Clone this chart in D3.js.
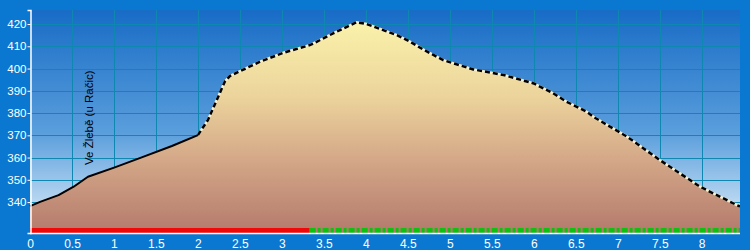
<!DOCTYPE html>
<html>
<head>
<meta charset="utf-8">
<script src="https://cdn.jsdelivr.net/npm/d3@7"></script>
<style>
  html, body { margin: 0; padding: 0; background: #0a78d0; }
  svg { display: block; font-family: "Liberation Sans", Arial, sans-serif; }
</style>
</head>
<body>
<div id="chart"></div>
<script>
'use strict';

// DATA
var distanceKm = [0, 0.12, 0.34, 0.52, 0.69, 1.01, 1.33, 1.69, 2.0, 2.12, 2.32, 2.38, 2.74, 3.02, 3.34, 3.61, 3.89, 4.01, 4.37, 4.53, 4.68, 4.92, 5.28, 5.64, 6.0, 6.23, 6.39, 6.63, 6.71, 7.11, 7.5, 7.98, 8.42, 8.456];
var elevationM = [338.2, 340.1, 343.1, 346.9, 351.4, 355.6, 360.1, 365.2, 370.1, 376.9, 394.1, 396.6, 403.1, 407.1, 410.6, 415.8, 420.8, 420, 415, 412, 408.6, 403.8, 399.6, 397.1, 393.3, 388.9, 385.1, 380.6, 378.3, 369.4, 358.9, 346.9, 338.6, 338];
var xTicks = [0, 0.5, 1, 1.5, 2, 2.5, 3, 3.5, 4, 4.5, 5, 5.5, 6, 6.5, 7, 7.5, 8];
var yTicks = [340, 350, 360, 370, 380, 390, 400, 410, 420];
var gridY = [330, 340, 350, 360, 370, 380, 390, 400, 410, 420];
var waypointNames = ['Ve Žlebě (u Račic)'];
var waypointKm = [0.72];
var solidUntilKm = [2.0];      // profile drawn solid up to here, dashed after
var trackSegments = [          // km ranges of the bottom track
    { from: 0, to: 3.33, kind: 'red' },
    { from: 3.33, to: 8.456, kind: 'green' }
];

var stage = { width: 750, height: 250, left: 30, right: 740, top: 10, bottom: 233 };

var svg = d3.select('#chart')
    .append('svg')
    .attr('width', stage.width)
    .attr('height', stage.height)
    .attr('xmlns', 'http://www.w3.org/2000/svg');

var x = d3.scaleLinear().domain([0, 8.456]).range([stage.left, stage.right]);
var y = d3.scaleLinear().domain([326.1, 426.3]).range([stage.bottom, stage.top]);

var profile = distanceKm.map(function(d, i) {
    return { km: d, m: elevationM[i] };
});

// GRADIENTS
var defs = svg.append('defs');

var sky = defs.append('linearGradient')
    .attr('id', 'sky')
    .attr('x1', 0).attr('y1', 0).attr('x2', 0).attr('y2', 1);
sky.append('stop').attr('offset', '0%').attr('stop-color', '#186cc6');
sky.append('stop').attr('offset', '55%').attr('stop-color', '#5a9edc');
sky.append('stop').attr('offset', '100%').attr('stop-color', '#e2f0fa');

var ground = defs.append('linearGradient')
    .attr('id', 'ground')
    .attr('gradientUnits', 'userSpaceOnUse')
    .attr('x1', 0).attr('y1', y(421)).attr('x2', 0).attr('y2', stage.bottom);
ground.append('stop').attr('offset', '0%').attr('stop-color', '#faf2aa');
ground.append('stop').attr('offset', '35%').attr('stop-color', '#ecd49c');
ground.append('stop').attr('offset', '65%').attr('stop-color', '#d4a888');
ground.append('stop').attr('offset', '100%').attr('stop-color', '#b47a6c');

// PLOT BACKGROUND
svg.append('rect')
    .attr('x', stage.left)
    .attr('y', stage.top)
    .attr('width', stage.right - stage.left)
    .attr('height', stage.bottom - stage.top)
    .attr('fill', 'url(#sky)');

// GRID
var grid = svg.append('g')
    .attr('stroke', '#0e88b0')
    .attr('stroke-width', 1);

grid.selectAll('line.v')
    .data(xTicks.filter(function(d) { return d > 0; })).enter()
    .append('line')
    .attr('class', 'v')
    .attr('x1', function(d) { return Math.round(x(d)) + 0.5; })
    .attr('x2', function(d) { return Math.round(x(d)) + 0.5; })
    .attr('y1', stage.top)
    .attr('y2', stage.bottom);

grid.selectAll('line.h')
    .data(gridY).enter()
    .append('line')
    .attr('class', 'h')
    .attr('x1', stage.left)
    .attr('x2', stage.right)
    .attr('y1', function(d) { return Math.round(y(d)) + 0.5; })
    .attr('y2', function(d) { return Math.round(y(d)) + 0.5; });

// PROFILE AREA
var area = d3.area()
    .x(function(d) { return x(d.km); })
    .y0(stage.bottom)
    .y1(function(d) { return y(d.m); });

svg.append('path')
    .datum(profile)
    .attr('d', area)
    .attr('fill', 'url(#ground)');

// PROFILE LINE
var line = d3.line()
    .x(function(d) { return x(d.km); })
    .y(function(d) { return y(d.m); });

var solidPart = profile.filter(function(d) { return d.km <= solidUntilKm[0]; });
var dashedPart = profile.filter(function(d) { return d.km >= solidUntilKm[0]; });

svg.append('path')
    .datum(solidPart)
    .attr('d', line)
    .attr('fill', 'none')
    .attr('stroke', '#000')
    .attr('stroke-width', 2)
    .attr('stroke-linejoin', 'round');

svg.append('path')
    .datum(dashedPart)
    .attr('d', line)
    .attr('fill', 'none')
    .attr('stroke', '#f6f0d0')
    .attr('stroke-width', 2.5);

svg.append('path')
    .datum(dashedPart)
    .attr('d', line)
    .attr('fill', 'none')
    .attr('stroke', '#000')
    .attr('stroke-width', 2.5)
    .attr('stroke-dasharray', '5,3');

// WAYPOINT LABELS
svg.append('g')
    .selectAll('text')
    .data(waypointNames).enter()
    .append('text')
    .attr('transform', function(d, i) {
        return 'translate(' + (x(waypointKm[i]) + 3) + ',' + 165 + ') rotate(-90)';
    })
    .attr('font-size', 11.5)
    .attr('fill', '#000')
    .text(function(d) { return d; });

// BOTTOM TRACK
var track = svg.append('g');

track.selectAll('line')
    .data(trackSegments).enter()
    .append('line')
    .attr('x1', function(d) { return x(d.from); })
    .attr('x2', function(d) { return x(d.to); })
    .attr('y1', 230.5)
    .attr('y2', 230.5)
    .attr('stroke', function(d) { return d.kind === 'red' ? '#f00808' : '#10c010'; })
    .attr('stroke-width', 5)
    .attr('stroke-dasharray', function(d) { return d.kind === 'red' ? null : '6,2,3,2'; });

// AXES
var xAxis = d3.axisBottom(x)
    .tickValues(xTicks)
    .tickSize(0)
    .tickFormat(d3.format('~g'));

var yAxis = d3.axisLeft(y)
    .tickValues(yTicks)
    .tickSize(3)
    .tickFormat(d3.format('d'));

var gx = svg.append('g')
    .attr('transform', 'translate(0,' + (stage.bottom + 0.5) + ')')
    .call(xAxis);

var gy = svg.append('g')
    .attr('transform', 'translate(' + (stage.left + 0.5) + ',0)')
    .call(yAxis);

[gx, gy].forEach(function(g) {
    g.select('.domain').attr('stroke', '#fff').attr('stroke-width', 1.5);
    g.selectAll('.tick line').attr('stroke', '#fff');
    g.selectAll('.tick text')
        .attr('fill', '#fff')
        .attr('font-size', 12)
        .attr('font-family', '"Liberation Sans", Arial, sans-serif');
});

gx.select('.domain').attr('d', 'M' + stage.left + ',0H' + stage.right);
gx.selectAll('.tick text').attr('dy', null).attr('y', 14);
gy.selectAll('.tick text').attr('x', -4).attr('font-size', 11.5);
</script>
</body>
</html>
